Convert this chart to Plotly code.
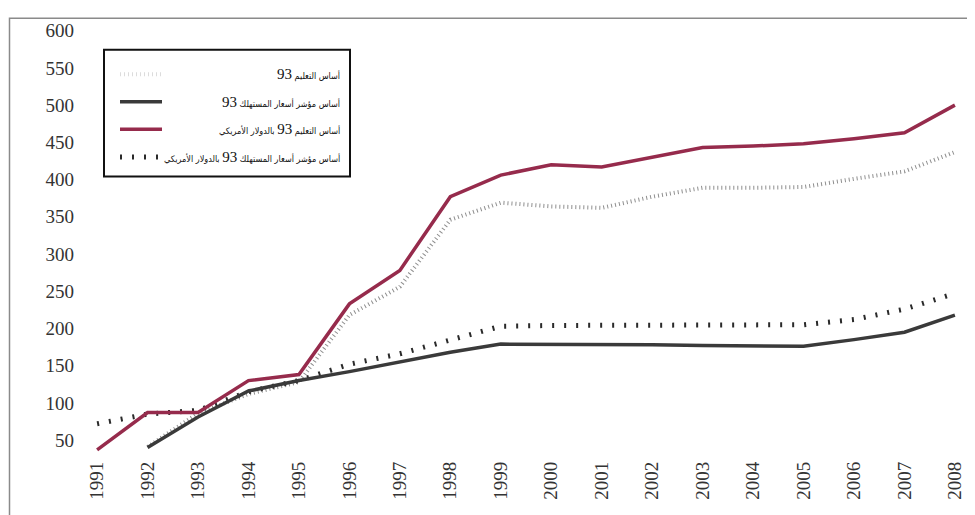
import plotly.graph_objects as go

years = list(range(1991, 2009))
tick_vals = [50, 100, 150, 200, 250, 300, 350, 400, 450, 500, 550, 600]

names = [
    "أساس التعليم 93",
    "أساس مؤشر أسعار المستهلك 93",
    "أساس التعليم 93 بالدولار الأمريكي",
    "أساس مؤشر أسعار المستهلك 93 بالدولار الأمريكي",
]

edu_93 = [None, 41, 86, 112, 128, 218, 256, 346, 369, 364, 362, 377, 389, 389, 390, 401, 411, 437]
cpi_93 = [None, 40, 81, 116, 130, 142, 155, 168, 179, 179, 178, 178, 177, 177, 176, 185, 195, 218]
edu_usd = [37, 87, 87, 130, 138, 233, 278, 377, 406, 420, 417, 430, 443, 445, 448, 455, 463, 500]
cpi_usd = [72, 85, 90, 115, 130, 152, 166, 184, 203, 204, 204, 204, 204, 204, 205, 212, 226, 247]

series = [edu_93, cpi_93, edu_usd, cpi_usd]
styles = [
    dict(color="#8e8e8e", width=4, dash="1px,3px"),
    dict(color="#3a3a3a", width=3.5),
    dict(color="#962b4c", width=3.5),
    dict(color="#2a2a2a", width=5, dash="2px,10px"),
]
order = [0, 3, 1, 2]  # drawing order

fig = go.Figure()
for i in order:
    fig.add_trace(go.Scatter(x=years, y=series[i], mode="lines", name=names[i],
                             line=styles[i], showlegend=False, connectgaps=False))

fnt = "Liberation Serif, DejaVu Sans, serif"
afnt = "DejaVu Sans Condensed, DejaVu Sans, sans-serif"

fig.update_layout(
    width=975, height=515,
    margin=dict(l=77, r=18, t=12, b=68),
    paper_bgcolor="white", plot_bgcolor="white",
    xaxis=dict(range=[1990.76, 2008.2], tickvals=years, ticktext=[str(y) for y in years],
               tickangle=-90, showgrid=False, zeroline=False, showline=False,
               ticklabelstandoff=2,
               tickfont=dict(family=fnt, size=19, color="#333")),
    yaxis=dict(range=[30, 605], tickvals=tick_vals, showgrid=False, zeroline=False,
               showline=False, ticklabelstandoff=10,
               tickfont=dict(family=fnt, size=19, color="#333")),
)


def px_x(v):
    return (v - 85) / 880


def px_y(v):
    return (455 - v) / 435


# outer frame
fig.add_shape(type="rect", xref="paper", yref="paper", x0=px_x(9.5), x1=px_x(971),
              y0=-0.2, y1=px_y(11),
              line=dict(color="#8a8a8a", width=1.5))


def rtl_label(s):
    parts = []
    for tok in s.split(" "):
        if tok.isdigit():
            parts.append('<span style="font-family:Liberation Serif;font-size:15px">' + tok + "</span>")
        else:
            parts.append(tok)
    return "\u202b" + " ".join(parts)


# custom legend box
fig.add_shape(type="rect", xref="paper", yref="paper", x0=px_x(104), x1=px_x(350),
              y0=px_y(172), y1=px_y(43),
              line=dict(color="#111", width=2), fillcolor="white", layer="above")
row_px = [68, 96, 124, 152]
for i, ypx in enumerate(row_px):
    st = styles[i]
    fig.add_shape(type="line", xref="paper", yref="paper",
                  x0=px_x(120), x1=px_x(162), y0=px_y(ypx), y1=px_y(ypx),
                  line=dict(color=st["color"] if i != 0 else "#dcdcdc", width=st["width"],
                            dash=st.get("dash", "solid")), layer="above")
    fig.add_annotation(xref="paper", yref="paper", x=px_x(342), y=px_y(ypx),
                       text=rtl_label(names[i]), showarrow=False, xanchor="right", yanchor="middle",
                       font=dict(family=afnt, size=9, color="#111"))

fig.write_html("out.html")
